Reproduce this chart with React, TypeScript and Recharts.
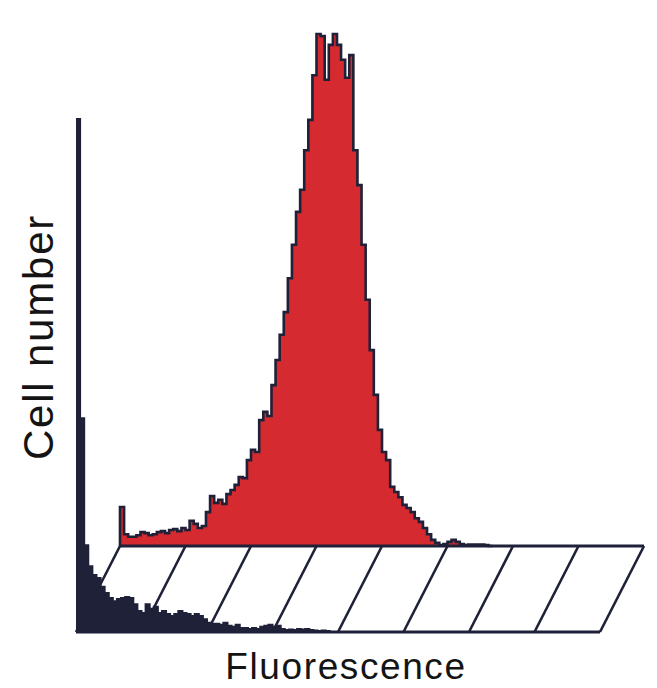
import React from 'react';
import { AreaChart, Area, XAxis, YAxis, ReferenceLine, Label } from 'recharts';

// ---- data (relative cell counts per fluorescence bin, peak ~100) ----
const frontCounts = [
  100, 41.6, 16.9, 12.8, 11.1, 10.5, 8.8, 7.6, 6.6, 6.0,
  6.4, 6.6, 6.8, 6.6, 5.4, 4.1, 3.7, 5.4, 4.5, 4.9,
  3.7, 4.1, 3.5, 3.1, 3.5, 4.1, 3.7, 3.5, 3.1, 3.5,
  3.1, 2.5, 1.8, 1.6, 1.6, 1.4, 1.8, 1.2, 1.0, 1.4,
  0.8, 0.8, 0.6, 0.8, 0.6, 1.0, 1.2, 1.4, 1.0, 1.2,
  0.6, 0.4, 0.5, 0.4, 0.6, 0.5, 0.6, 0.4, 0.3, 0.2,
  0.3, 0.2, 0,
];

const backCounts = [
  7.6, 2.3, 1.8, 1.8, 2.1, 2.7, 2.5, 2.1, 2.3, 2.7,
  2.9, 2.5, 3.1, 3.3, 2.9, 3.5, 3.1, 4.9, 4.3, 3.5,
  3.9, 6.6, 9.7, 8.4, 9.0, 8.2, 10.1, 10.9, 11.9, 13.4,
  13.2, 16.7, 18.7, 18.3, 24.5, 26.1, 25.3, 31.3, 36.2, 41.1,
  45.5, 52.1, 58.6, 65.0, 69.3, 77.0, 82.9, 91.6, 99.6, 99.2,
  90.7, 97.5, 99.6, 97.5, 94.6, 91.1, 95.5, 77.0, 70.2, 58.6,
  47.9, 38.1, 29.4, 22.6, 18.3, 16.7, 11.5, 10.5, 9.5, 8.0,
  7.4, 6.6, 5.4, 4.7, 3.5, 2.3, 1.2, 0.6, 0.2, 0.4,
  0.8, 1.2, 0.8, 0.4, 0.2, 0.3, 0.3, 0.3, 0.3, 0.2,
  0,
];

const binCount = 128;
const hatchBins = [0, 16, 32, 48, 64, 80, 96, 112, 128];
const xTitle = 'Fluorescence';
const yTitle = 'Cell number';

// ---- style / layout ----
const W = 657;
const H = 688;
const NAVY = '#1e2137';
const RED = '#d52a2f';
const FONT = '"Liberation Sans", Arial, Helvetica, sans-serif';
// 3D offset of the front histogram relative to the back one, in back-chart data units
const SHIFT_X = 10.75;
const SHIFT_Y = 16.73;

function toSteps(counts: number[]) {
  const rows: { bin: number; count: number }[] = [{ bin: 0, count: 0 }];
  counts.forEach((c, i) => rows.push({ bin: i, count: c }));
  rows.push({ bin: counts.length, count: 0 });
  return rows;
}

const frontData = toSteps(frontCounts);
const backData = toSteps(backCounts);

const layer: React.CSSProperties = { position: 'absolute', left: 0, top: 0 };

const XTitle = (props: any) => {
  const vb = props.viewBox || { x: 76, y: 632, width: 524, height: 56 };
  return (
    <text
      x={vb.x + vb.width / 2 + 8}
      y={vb.y + 47}
      textAnchor="middle"
      fontFamily={FONT}
      fontSize={37}
      letterSpacing={1.6}
      fill="#141414"
    >
      {props.value}
    </text>
  );
};

const YTitle = (props: any) => {
  const vb = props.viewBox || { x: 0, y: 118, width: 76, height: 514 };
  const x = vb.x + 53;
  const y = vb.y + 219;
  return (
    <text
      x={x}
      y={y}
      transform={`rotate(-90, ${x}, ${y})`}
      textAnchor="middle"
      fontFamily={FONT}
      fontSize={42}
      letterSpacing={1.8}
      fill="#141414"
    >
      {props.value}
    </text>
  );
};

export default function App() {
  return (
    <div style={{ position: 'absolute', left: 0, top: 0, width: W, height: H, background: '#ffffff' }}>
      {/* back (red) histogram with the hatched parallelogram floor */}
      <div style={layer}>
        <AreaChart width={W} height={H} data={backData} margin={{ top: 32, right: 13, bottom: 56, left: 76 }}>
          <XAxis type="number" dataKey="bin" domain={[-SHIFT_X, binCount]} allowDataOverflow hide />
          <YAxis type="number" domain={[-SHIFT_Y, 100]} allowDataOverflow hide />
          <Area
            type="stepAfter"
            dataKey="count"
            baseValue={0}
            fill={RED}
            fillOpacity={1}
            stroke={NAVY}
            strokeWidth={2.6}
            isAnimationActive={false}
          />
          <ReferenceLine
            segment={[{ x: 0, y: 0 }, { x: binCount, y: 0 }]}
            stroke={NAVY}
            strokeWidth={2.8}
          />
          <ReferenceLine
            segment={[{ x: -SHIFT_X, y: -SHIFT_Y }, { x: binCount - SHIFT_X, y: -SHIFT_Y }]}
            stroke={NAVY}
            strokeWidth={2.8}
          />
          {hatchBins.map((b) => (
            <ReferenceLine
              key={b}
              segment={[{ x: b - SHIFT_X, y: -SHIFT_Y }, { x: b, y: 0 }]}
              stroke={NAVY}
              strokeWidth={2.6}
            />
          ))}
        </AreaChart>
      </div>
      {/* front (dark) histogram */}
      <div style={layer}>
        <AreaChart width={W} height={H} data={frontData} margin={{ top: 118, right: 57, bottom: 0, left: 0 }}>
          <XAxis
            type="number"
            dataKey="bin"
            domain={[0, binCount]}
            allowDataOverflow
            tick={false}
            tickLine={false}
            axisLine={false}
            height={56}
          >
            <Label value={xTitle} content={<XTitle />} />
          </XAxis>
          <YAxis
            type="number"
            domain={[0, 100]}
            allowDataOverflow
            tick={false}
            tickLine={false}
            axisLine={false}
            width={76}
          >
            <Label value={yTitle} content={<YTitle />} />
          </YAxis>
          <Area
            type="stepAfter"
            dataKey="count"
            baseValue={0}
            fill={NAVY}
            fillOpacity={1}
            stroke={NAVY}
            strokeWidth={2}
            isAnimationActive={false}
          />
        </AreaChart>
      </div>
    </div>
  );
}
